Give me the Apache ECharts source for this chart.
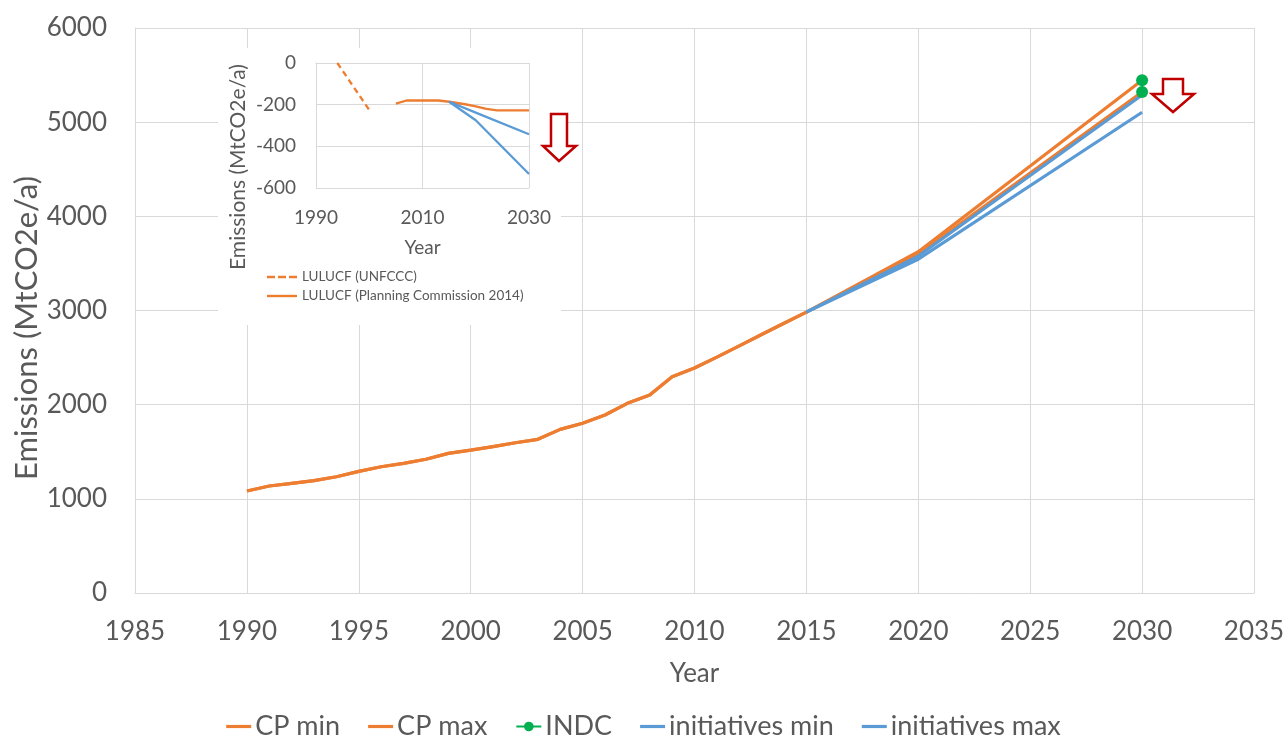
<!DOCTYPE html>
<html>
<head>
<meta charset="utf-8">
<style>
  html, body { margin: 0; padding: 0; background: #ffffff; }
  #chart { width: 1287px; height: 738px; }
</style>
<script src="https://cdn.jsdelivr.net/npm/echarts@6/dist/echarts.min.js"></script>
</head>
<body>
<div id="chart"></div>
<script>
// ---------- Main chart data ----------
const histYears = [1990, 1991, 1992, 1993, 1994, 1995, 1996, 1997, 1998, 1999, 2000, 2001, 2002,
                   2003, 2004, 2005, 2006, 2007, 2008, 2009, 2010, 2011, 2012, 2013, 2014, 2015];
const histEmissions = [1083, 1136, 1165, 1193, 1235, 1292, 1341, 1377, 1420, 1483, 1518, 1554, 1596,
                       1632, 1738, 1802, 1890, 2014, 2103, 2297, 2390, 2505, 2625, 2745, 2865, 2983];
const projYears = [2020, 2030];
const cpMin = [3600, 5320];
const cpMax = [3625, 5445];
const initiativesMin = [3545, 5105];
const initiativesMax = [3578, 5288];
const indcYears = [2030, 2030];
const indcValues = [5445, 5320];
const xTicks = { min: 1985, max: 2035, step: 5 };
const yTicks = { min: 0, max: 6000, step: 1000 };

// ---------- Inset (LULUCF) data ----------
const unfcccYears = [1994, 2000];
const unfcccValues = [0, -225];
const pcYears = [2005, 2007, 2013, 2015, 2018, 2020, 2022, 2024, 2030];
const pcValues = [-195, -180, -180, -186, -198, -208, -220, -227, -227];
const lulucfInitYears = [2015, 2020, 2030];
const lulucfInitMax = [-186, -238, -342];
const lulucfInitMin = [-186, -275, -533];
const insetXTicks = { min: 1990, max: 2030, step: 20 };
const insetYTicks = { min: -600, max: 0, step: 200 };

const ORANGE = '#ED7D31', BLUE = '#5B9BD5', GREEN = '#00B050', TXT = '#595959', GRID = '#d9d9d9';
const FONT = 'Lato';
const plain = v => String(v);

// legend icons: plain line / dashed line (invisible moveTo corners keep the box size)
const LINE_ICON = 'path://M0,0 M25,12 M0,4.4 L25,4.4 L25,7.6 L0,7.6 Z';
const INSET_SOLID_ICON = 'path://M0,0 M30,10 M0,3.8 L30,3.8 L30,6.2 L0,6.2 Z';
const INSET_DASH_ICON = 'path://M0,0 M30,10 M0,3.8 L8,3.8 L8,6.2 L0,6.2 Z M11,3.8 L19,3.8 L19,6.2 L11,6.2 Z M22,3.8 L30,3.8 L30,6.2 L22,6.2 Z';

function pairs(xs, ys) { return xs.map((x, i) => [x, ys[i]]); }
const histPairs = pairs(histYears, histEmissions);
const lastHist = histPairs[histPairs.length - 1];

const chart = echarts.init(document.getElementById('chart'), null, { renderer: 'canvas' });

const option = {
  animation: false,
  backgroundColor: '#ffffff',
  textStyle: { fontFamily: FONT, color: TXT },
  grid: [
    { left: 135, right: 33, top: 28, bottom: 145, outerBoundsMode: 'none', containLabel: false },
    { left: 316, top: 63, width: 213, height: 125, outerBoundsMode: 'none', containLabel: false, z: 6 }
  ],
  xAxis: [
    {
      gridIndex: 0, type: 'value', min: xTicks.min, max: xTicks.max, interval: xTicks.step,
      name: 'Year', nameLocation: 'middle', nameGap: 68,
      nameTextStyle: { fontSize: 26, color: TXT, fontFamily: FONT },
      axisLine: { show: true, lineStyle: { color: GRID, width: 1 } },
      axisTick: { show: false },
      axisLabel: { fontSize: 26, color: TXT, margin: 26, fontFamily: FONT, showMaxLabel: true, showMinLabel: true, formatter: plain },
      splitLine: { show: true, lineStyle: { color: GRID, width: 1 } }
    },
    {
      gridIndex: 1, type: 'value', min: insetXTicks.min, max: insetXTicks.max, interval: insetXTicks.step, z: 6,
      name: 'Year', nameLocation: 'middle', nameGap: 50,
      nameTextStyle: { fontSize: 19, color: TXT, fontFamily: FONT },
      axisLine: { show: true, lineStyle: { color: GRID, width: 1 } },
      axisTick: { show: false },
      axisLabel: { fontSize: 19, color: TXT, margin: 20, fontFamily: FONT, showMaxLabel: true, showMinLabel: true, formatter: plain },
      splitLine: { show: true, lineStyle: { color: GRID, width: 1 } }
    }
  ],
  yAxis: [
    {
      gridIndex: 0, type: 'value', min: yTicks.min, max: yTicks.max, interval: yTicks.step,
      axisLine: { show: true, lineStyle: { color: GRID, width: 1 } },
      axisTick: { show: false },
      axisLabel: { fontSize: 26, color: TXT, margin: 28, fontFamily: FONT, formatter: plain },
      splitLine: { show: true, lineStyle: { color: GRID, width: 1 } }
    },
    {
      gridIndex: 1, type: 'value', min: insetYTicks.min, max: insetYTicks.max, interval: insetYTicks.step, z: 6,
      axisLine: { show: true, lineStyle: { color: GRID, width: 1 } },
      axisTick: { show: false },
      axisLabel: { fontSize: 19, color: TXT, margin: 20, fontFamily: FONT, formatter: plain },
      splitLine: { show: true, lineStyle: { color: GRID, width: 1 } }
    }
  ],
  legend: [
    {
      data: [
        { name: 'CP min', icon: LINE_ICON },
        { name: 'CP max', icon: LINE_ICON },
        { name: 'INDC' },
        { name: 'initiatives min', icon: LINE_ICON },
        { name: 'initiatives max', icon: LINE_ICON }
      ],
      left: 'center', top: 708, itemWidth: 25, itemHeight: 12, itemGap: 28,
      textStyle: { fontSize: 27, color: TXT, fontFamily: FONT, padding: [0, 0, 0, -1] }
    },
    {
      data: [
        { name: 'LULUCF (UNFCCC)', icon: INSET_DASH_ICON },
        { name: 'LULUCF (Planning Commission 2014)', icon: INSET_SOLID_ICON }
      ],
      orient: 'vertical', left: 262, top: 265, itemWidth: 30, itemHeight: 10, itemGap: 5, z: 8,
      textStyle: { fontSize: 13.5, color: TXT, fontFamily: FONT }
    }
  ],
  graphic: [
    { type: 'rect', z: 5, silent: true, shape: { x: 218, y: 48, width: 343, height: 277 }, style: { fill: '#ffffff' } },
    { type: 'text', z: 9, silent: true, x: 27, y: 328, rotation: Math.PI / 2,
      style: { text: 'Emissions (MtCO2e/a)', fontSize: 31, fontFamily: FONT, fill: TXT, align: 'center', verticalAlign: 'middle' } },
    { type: 'text', z: 9, silent: true, x: 238, y: 167, rotation: Math.PI / 2,
      style: { text: 'Emissions (MtCO2e/a)', fontSize: 21, fontFamily: FONT, fill: TXT, align: 'center', verticalAlign: 'middle' } },
    { type: 'polygon', z: 9, silent: true,
      shape: { points: [[1163, 79], [1183, 79], [1183, 94], [1194, 94], [1173, 112], [1152, 94], [1163, 94]] },
      style: { fill: '#ffffff', stroke: '#C00000', lineWidth: 2.5 } },
    { type: 'polygon', z: 9, silent: true,
      shape: { points: [[551, 114], [567, 114], [567, 146], [576, 146], [559, 161], [543, 146], [551, 146]] },
      style: { fill: '#ffffff', stroke: '#C00000', lineWidth: 2.5 } }
  ],
  series: [
    { name: 'CP min', type: 'line', xAxisIndex: 0, yAxisIndex: 0, symbol: 'none', z: 2,
      color: ORANGE, lineStyle: { color: ORANGE, width: 3.2 },
      data: histPairs.concat(pairs(projYears, cpMin)) },
    { name: 'CP max', type: 'line', xAxisIndex: 0, yAxisIndex: 0, symbol: 'none', z: 2,
      color: ORANGE, lineStyle: { color: ORANGE, width: 3.2 },
      data: histPairs.concat(pairs(projYears, cpMax)) },
    { name: 'initiatives min', type: 'line', xAxisIndex: 0, yAxisIndex: 0, symbol: 'none', z: 3,
      color: BLUE, lineStyle: { color: BLUE, width: 3.2 },
      data: [lastHist].concat(pairs(projYears, initiativesMin)) },
    { name: 'initiatives max', type: 'line', xAxisIndex: 0, yAxisIndex: 0, symbol: 'none', z: 3,
      color: BLUE, lineStyle: { color: BLUE, width: 3.2 },
      data: [lastHist].concat(pairs(projYears, initiativesMax)) },
    { name: 'INDC', type: 'line', xAxisIndex: 0, yAxisIndex: 0, symbol: 'circle', symbolSize: 12, z: 4,
      color: GREEN, itemStyle: { color: GREEN }, lineStyle: { color: GREEN, width: 2 },
      data: pairs(indcYears, indcValues) },

    { name: 'LULUCF (UNFCCC)', type: 'line', xAxisIndex: 1, yAxisIndex: 1, symbol: 'none', z: 7,
      color: ORANGE, lineStyle: { color: ORANGE, width: 2.3, type: [6, 4] },
      data: pairs(unfcccYears, unfcccValues) },
    { name: 'LULUCF (Planning Commission 2014)', type: 'line', xAxisIndex: 1, yAxisIndex: 1, symbol: 'none', z: 7,
      color: ORANGE, lineStyle: { color: ORANGE, width: 2.3 },
      data: pairs(pcYears, pcValues) },
    { name: 'LULUCF initiatives max', type: 'line', xAxisIndex: 1, yAxisIndex: 1, symbol: 'none', z: 8,
      color: BLUE, lineStyle: { color: BLUE, width: 2.3 },
      data: pairs(lulucfInitYears, lulucfInitMax) },
    { name: 'LULUCF initiatives min', type: 'line', xAxisIndex: 1, yAxisIndex: 1, symbol: 'none', z: 8,
      color: BLUE, lineStyle: { color: BLUE, width: 2.3 },
      data: pairs(lulucfInitYears, lulucfInitMin) }
  ]
};

chart.setOption(option);
</script>
</body>
</html>
